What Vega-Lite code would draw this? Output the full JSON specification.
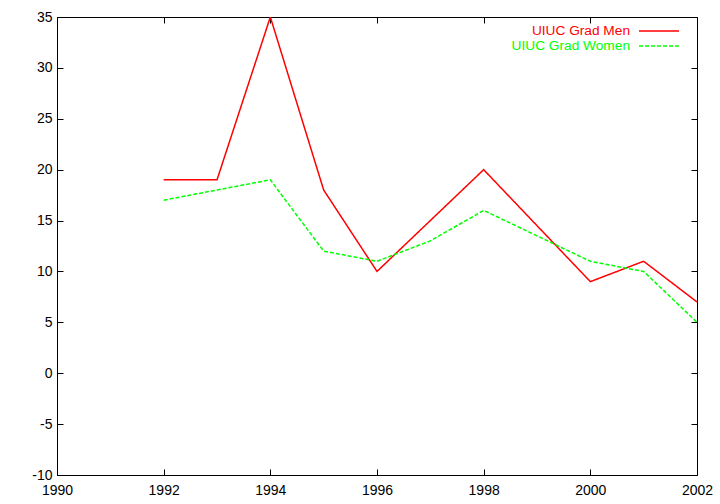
{
  "$schema": "https://vega.github.io/schema/vega-lite/v6.json",
  "width": 640,
  "height": 458,
  "autosize": "none",
  "padding": {"left": 57, "top": 17, "right": 23, "bottom": 29},
  "background": "white",
  "config": {
    "view": {"stroke": "black", "strokeWidth": 1},
    "font": "Liberation Sans",
    "axis": {
      "grid": false,
      "domain": false,
      "tickColor": "black",
      "tickSize": -6,
      "tickWidth": 1,
      "labelColor": "black",
      "labelFontSize": 14,
      "labelFont": "Liberation Sans",
      "title": null
    }
  },
  "data": {
    "values": [
      {"year": 1992, "value": 19, "series": "UIUC Grad Men"},
      {"year": 1993, "value": 19, "series": "UIUC Grad Men"},
      {"year": 1994, "value": 35, "series": "UIUC Grad Men"},
      {"year": 1995, "value": 18, "series": "UIUC Grad Men"},
      {"year": 1996, "value": 10, "series": "UIUC Grad Men"},
      {"year": 1997, "value": 15, "series": "UIUC Grad Men"},
      {"year": 1998, "value": 20, "series": "UIUC Grad Men"},
      {"year": 1999, "value": 14.5, "series": "UIUC Grad Men"},
      {"year": 2000, "value": 9, "series": "UIUC Grad Men"},
      {"year": 2001, "value": 11, "series": "UIUC Grad Men"},
      {"year": 2002, "value": 7, "series": "UIUC Grad Men"},
      {"year": 1992, "value": 17, "series": "UIUC Grad Women"},
      {"year": 1993, "value": 18, "series": "UIUC Grad Women"},
      {"year": 1994, "value": 19, "series": "UIUC Grad Women"},
      {"year": 1995, "value": 12, "series": "UIUC Grad Women"},
      {"year": 1996, "value": 11, "series": "UIUC Grad Women"},
      {"year": 1997, "value": 13, "series": "UIUC Grad Women"},
      {"year": 1998, "value": 16, "series": "UIUC Grad Women"},
      {"year": 1999, "value": 13.5, "series": "UIUC Grad Women"},
      {"year": 2000, "value": 11, "series": "UIUC Grad Women"},
      {"year": 2001, "value": 10, "series": "UIUC Grad Women"},
      {"year": 2002, "value": 5, "series": "UIUC Grad Women"}
    ]
  },
  "layer": [
    {
      "mark": {"type": "line", "strokeWidth": 1.5, "clip": true},
      "encoding": {
        "x": {
          "field": "year", "type": "quantitative",
          "scale": {"domain": [1990, 2002], "nice": false, "zero": false},
          "axis": {"orient": "bottom", "values": [1990, 1992, 1994, 1996, 1998, 2000, 2002], "labelExpr": "'' + datum.value", "labelPadding": 14, "labelFlush": false, "labelOverlap": false}
        },
        "y": {
          "field": "value", "type": "quantitative",
          "scale": {"domain": [-10, 35], "nice": false, "zero": false},
          "axis": {"orient": "left", "values": [-10, -5, 0, 5, 10, 15, 20, 25, 30, 35], "labelExpr": "'' + datum.value", "labelPadding": 11, "labelFlush": false, "labelOverlap": false}
        },
        "color": {
          "field": "series", "type": "nominal",
          "scale": {"domain": ["UIUC Grad Men", "UIUC Grad Women"], "range": ["#ff0000", "#00ff00"]},
          "legend": {
            "orient": "none", "legendX": 594, "legendY": 6, "padding": 0, "title": null,
            "symbolType": "M-2.857,0H2.857", "symbolSize": 196, "symbolStrokeWidth": 1.5,
            "labelAlign": "right", "labelOffset": -37, "labelFontSize": 13.7, "labelLimit": 0,
            "rowPadding": -1,
            "labelColor": {"expr": "datum.label == 'UIUC Grad Men' ? '#ff0000' : '#00ff00'"}
          }
        },
        "strokeDash": {
          "field": "series", "type": "nominal",
          "scale": {"domain": ["UIUC Grad Men", "UIUC Grad Women"], "range": [[1, 0], [4, 2]]},
          "legend": {
            "orient": "none", "legendX": 594, "legendY": 6, "padding": 0, "title": null,
            "symbolType": "M-2.857,0H2.857", "symbolSize": 196, "symbolStrokeWidth": 1.5,
            "labelAlign": "right", "labelOffset": -37, "labelFontSize": 13.7, "labelLimit": 0,
            "rowPadding": -1,
            "labelColor": {"expr": "datum.label == 'UIUC Grad Men' ? '#ff0000' : '#00ff00'"}
          }
        }
      }
    },
    {
      "mark": {"type": "point", "opacity": 0},
      "encoding": {
        "x": {"field": "year", "type": "quantitative", "axis": {"orient": "top", "values": [1990, 1992, 1994, 1996, 1998, 2000, 2002], "labels": false}},
        "y": {"field": "value", "type": "quantitative", "axis": {"orient": "right", "values": [-10, -5, 0, 5, 10, 15, 20, 25, 30, 35], "labels": false}}
      }
    }
  ],
  "resolve": {"axis": {"x": "independent", "y": "independent"}}
}
